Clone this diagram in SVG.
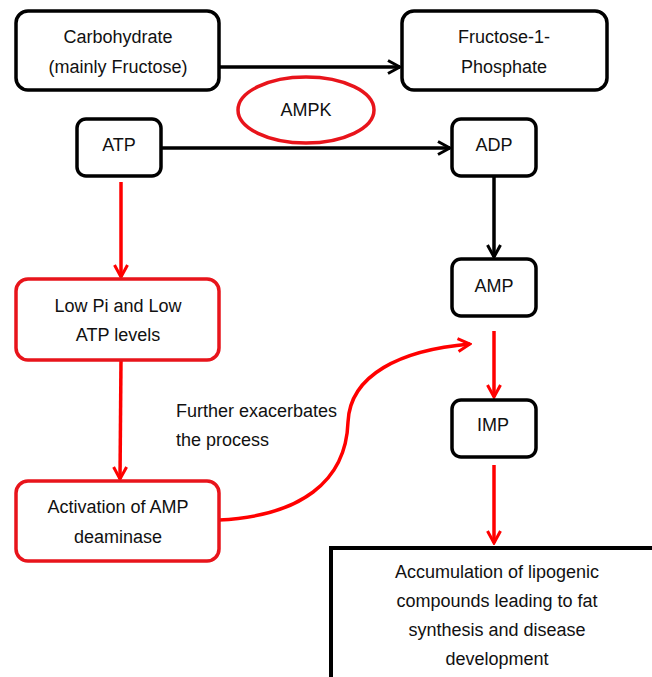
<svg xmlns="http://www.w3.org/2000/svg" width="652" height="677" viewBox="0 0 652 677">
<style>
.bk{fill:#fff;stroke:#000;stroke-width:3.5}
.rd{fill:#fff;stroke:#e8141b;stroke-width:3.5}
text{font-family:"Liberation Sans",Arial,sans-serif;font-size:18px;fill:#111;text-anchor:middle}
.cb{fill:none;stroke:#000;stroke-width:3.5}
.cr{fill:none;stroke:#f00;stroke-width:3.5}
</style>
<defs>
<marker id="ab" viewBox="0 0 16 16" refX="14" refY="8" markerWidth="16" markerHeight="16" markerUnits="userSpaceOnUse" orient="auto"><path d="M2,1.5 L14,8 L2,14.5" fill="none" stroke="#000" stroke-width="3"/></marker>
<marker id="ar" viewBox="0 0 16 16" refX="14" refY="8" markerWidth="16" markerHeight="16" markerUnits="userSpaceOnUse" orient="auto"><path d="M2,1.5 L14,8 L2,14.5" fill="none" stroke="#f00" stroke-width="3"/></marker>
</defs>
<rect width="652" height="677" fill="#fff"/>
<g id="connectors">
<path class="cb" d="M219,67 H400" marker-end="url(#ab)"/>
<path class="cb" d="M161,148 H450" marker-end="url(#ab)"/>
<path class="cb" d="M494,176 V257" marker-end="url(#ab)"/>
<path class="cr" d="M121,182 V277" marker-end="url(#ar)"/>
<path class="cr" d="M121,360 L120,479" marker-end="url(#ar)"/>
<path class="cr" d="M219,520 C300,516 346,482 348,422 C350,375 400,350 470,344" marker-end="url(#ar)"/>
<path class="cr" d="M494,331 V397" marker-end="url(#ar)"/>
<path class="cr" d="M494,465 V543" marker-end="url(#ar)"/>
</g>
<g id="carbohydrate"><rect class="bk" x="16" y="11" width="203" height="79" rx="12"/><text x="118" y="43">Carbohydrate</text><text x="118" y="73">(mainly Fructose)</text></g>
<g id="f1p"><rect class="bk" x="402" y="11" width="205" height="79" rx="12"/><text x="504" y="43">Fructose-1-</text><text x="504" y="73">Phosphate</text></g>
<g id="ampk"><ellipse class="rd" cx="306" cy="110" rx="68" ry="33"/><text x="306" y="116">AMPK</text></g>
<g id="atp"><rect class="bk" x="77" y="119" width="84" height="57" rx="9"/><text x="119" y="151">ATP</text></g>
<g id="adp"><rect class="bk" x="452" y="119" width="84" height="57" rx="9"/><text x="494" y="151">ADP</text></g>
<g id="amp"><rect class="bk" x="452" y="259" width="84" height="57" rx="9"/><text x="494" y="292">AMP</text></g>
<g id="lowpi"><rect class="rd" x="16" y="279" width="203" height="81" rx="12"/><text x="118" y="312">Low Pi and Low</text><text x="118" y="341">ATP levels</text></g>
<g id="activation"><rect class="rd" x="16" y="481" width="203" height="80" rx="12"/><text x="118" y="513">Activation of AMP</text><text x="118" y="543">deaminase</text></g>
<g id="imp"><rect class="bk" x="452" y="400" width="84" height="57" rx="9"/><text x="493" y="431">IMP</text></g>
<g id="label"><text x="176" y="417" style="text-anchor:start">Further exacerbates</text><text x="176" y="446" style="text-anchor:start">the process</text></g>
<g id="accumulation"><rect x="331" y="548" width="340" height="140" fill="#fff" stroke="#000" stroke-width="4"/><text x="497" y="578">Accumulation of lipogenic</text><text x="497" y="607">compounds leading to fat</text><text x="497" y="636">synthesis and disease</text><text x="497" y="665">development</text></g>
</svg>
